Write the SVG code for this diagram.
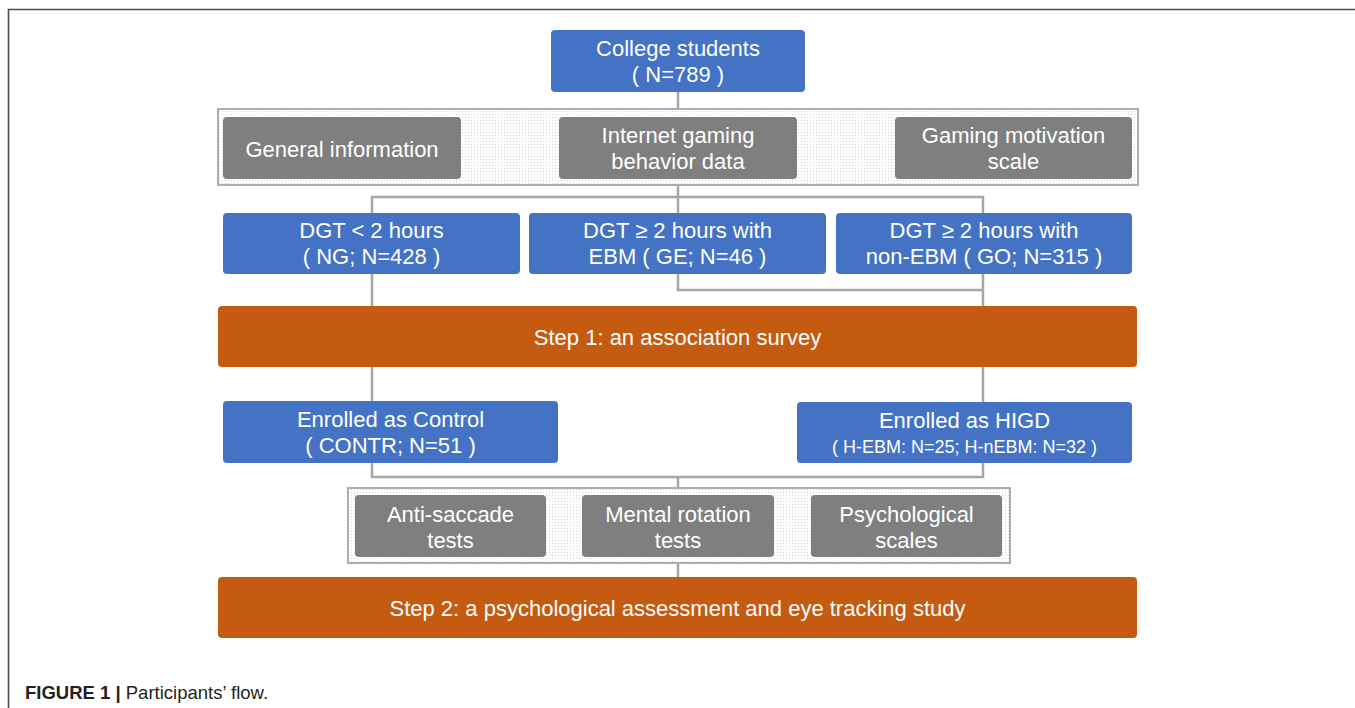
<svg xmlns="http://www.w3.org/2000/svg" width="1355" height="708" viewBox="0 0 1355 708">
<defs>
<pattern id="dots" width="3" height="3" patternUnits="userSpaceOnUse">
<rect width="3" height="3" fill="#ffffff"/>
<rect width="1" height="1" fill="#d4d4d4"/>
</pattern>
<style>
.blue{fill:#4472C4}
.gray{fill:#7F7F7F}
.orange{fill:#C55A11}
.cont{fill:url(#dots);stroke:#ADADAD;stroke-width:2}
.t{font-family:"Liberation Sans",Arial,sans-serif;font-size:22px;fill:#ffffff;text-anchor:middle}
.s{font-size:18px}
.conn{fill:none;stroke:#A6A6A6;stroke-width:2.5}
.cap{font-family:"Liberation Sans",Arial,sans-serif;font-size:18.5px;fill:#231f20}
</style>
</defs>
<rect width="1355" height="708" fill="#ffffff"/>
<path d="M8.5,708 V9.5 H1355" fill="none" stroke="#4d4d4d" stroke-width="1.6"/>

<g id="connectors" class="conn">
<path d="M678,92 V108"/>
<path d="M678,185 V213"/>
<path d="M372,213 V197 H983 V213"/>
<path d="M372,274 V306"/>
<path d="M678,274 V290 H983"/>
<path d="M983,274 V306"/>
<path d="M372,367 V401"/>
<path d="M983,367 V402"/>
<path d="M372,463 V477 H983 V463"/>
<path d="M678,477 V488"/>
<path d="M678,563 V577"/>
</g>

<g id="college">
<rect class="blue" x="551" y="30" width="254" height="62" rx="4"/>
<text class="t" x="678" y="56">College students</text>
<text class="t" x="678" y="82">( N=789 )</text>
</g>

<g id="container1">
<rect class="cont" x="218" y="109" width="920" height="76"/>
</g>
<g id="general">
<rect class="gray" x="223" y="117" width="238" height="62" rx="4"/>
<text class="t" x="342" y="157">General information</text>
</g>
<g id="internet">
<rect class="gray" x="559" y="117" width="238" height="62" rx="4"/>
<text class="t" x="678" y="143">Internet gaming</text>
<text class="t" x="678" y="169">behavior data</text>
</g>
<g id="motivation">
<rect class="gray" x="895" y="117" width="237" height="62" rx="4"/>
<text class="t" x="1013.5" y="143">Gaming motivation</text>
<text class="t" x="1013.5" y="169">scale</text>
</g>

<g id="ng">
<rect class="blue" x="223" y="213" width="297" height="61" rx="4"/>
<text class="t" x="371.5" y="238">DGT &lt; 2 hours</text>
<text class="t" x="371.5" y="264">( NG; N=428 )</text>
</g>
<g id="ge">
<rect class="blue" x="529" y="213" width="297" height="61" rx="4"/>
<text class="t" x="677.5" y="238">DGT ≥ 2 hours with</text>
<text class="t" x="677.5" y="264">EBM ( GE; N=46 )</text>
</g>
<g id="go">
<rect class="blue" x="836" y="213" width="296" height="61" rx="4"/>
<text class="t" x="984" y="238">DGT ≥ 2 hours with</text>
<text class="t" x="984" y="264">non-EBM ( GO; N=315 )</text>
</g>

<g id="step1">
<rect class="orange" x="218" y="306" width="919" height="61" rx="4"/>
<text class="t" x="677.5" y="345">Step 1: an association survey</text>
</g>

<g id="control">
<rect class="blue" x="223" y="401" width="335" height="62" rx="4"/>
<text class="t" x="390.5" y="427">Enrolled as Control</text>
<text class="t" x="390.5" y="453">( CONTR; N=51 )</text>
</g>
<g id="higd">
<rect class="blue" x="797" y="402" width="335" height="61" rx="4"/>
<text class="t" x="964.5" y="428">Enrolled as HIGD</text>
<text class="t s" x="964.5" y="453">( H-EBM: N=25; H-nEBM: N=32 )</text>
</g>

<g id="container2">
<rect class="cont" x="348" y="488" width="662" height="75"/>
</g>
<g id="antisaccade">
<rect class="gray" x="355" y="495" width="191" height="62" rx="4"/>
<text class="t" x="450.5" y="522">Anti-saccade</text>
<text class="t" x="450.5" y="548">tests</text>
</g>
<g id="mental">
<rect class="gray" x="582" y="495" width="192" height="62" rx="4"/>
<text class="t" x="678" y="522">Mental rotation</text>
<text class="t" x="678" y="548">tests</text>
</g>
<g id="psych">
<rect class="gray" x="811" y="495" width="191" height="62" rx="4"/>
<text class="t" x="906.5" y="522">Psychological</text>
<text class="t" x="906.5" y="548">scales</text>
</g>

<g id="step2">
<rect class="orange" x="218" y="577" width="919" height="61" rx="4"/>
<text class="t" x="677.5" y="616">Step 2: a psychological assessment and eye tracking study</text>
</g>

<text class="cap" x="25" y="699"><tspan font-weight="bold">FIGURE 1 |</tspan> Participants’ flow.</text>
</svg>
